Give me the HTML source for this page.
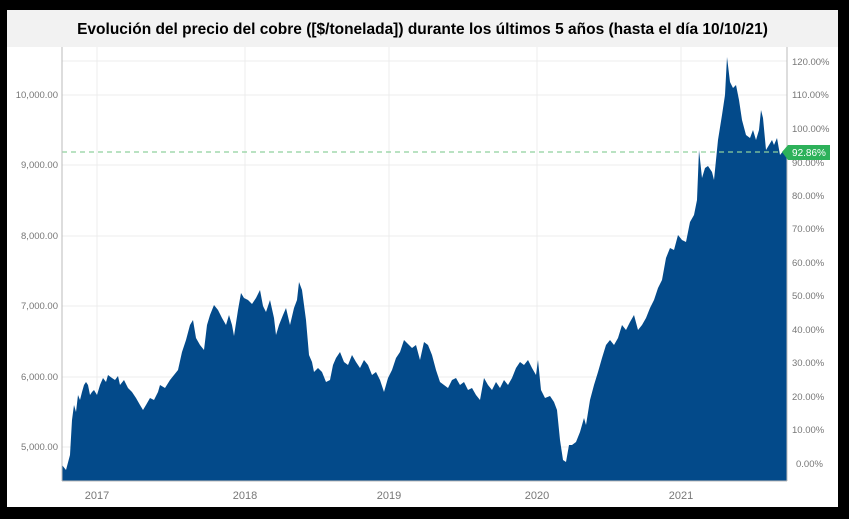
<!DOCTYPE html>
<html><head><meta charset="utf-8"><style>
body{margin:0;background:#000;width:849px;height:519px;overflow:hidden;font-family:"Liberation Sans",sans-serif}
#w{position:absolute;left:7px;top:10px;width:831px;height:497px;background:#fff}
#t{position:absolute;left:0;top:0;width:831px;height:37px;background:#f2f2f2;font:bold 15.5px "Liberation Sans",sans-serif;color:#000;text-align:center;line-height:40px}
</style></head><body>
<div id="w"><div id="t">Evolución del precio del cobre ([$/tonelada]) durante los últimos 5 años (hasta el día 10/10/21)</div></div>
<svg width="849" height="519" style="position:absolute;left:0;top:0" font-family="Liberation Sans,sans-serif">
<g stroke="#ececec" stroke-width="1">
<line x1="97" y1="47" x2="97" y2="481"/><line x1="245" y1="47" x2="245" y2="481"/><line x1="389" y1="47" x2="389" y2="481"/><line x1="537" y1="47" x2="537" y2="481"/><line x1="681" y1="47" x2="681" y2="481"/>
<line x1="62" y1="95" x2="787" y2="95"/><line x1="62" y1="165" x2="787" y2="165"/><line x1="62" y1="236" x2="787" y2="236"/><line x1="62" y1="306" x2="787" y2="306"/><line x1="62" y1="377" x2="787" y2="377"/><line x1="62" y1="447" x2="787" y2="447"/>
<line x1="62" y1="61" x2="787" y2="61"/>
</g>
<polygon fill="#034a8a" points="62,481 62,465 66,470 70,455 72,420 74,405 76,412 78,395 80,400 82,392 84,385 86,382 88,385 90,395 92,392 94,390 97,395 100,385 103,378 106,382 108,375 112,378 115,380 118,376 120,385 124,380 128,388 132,392 136,398 140,405 143,410 146,405 150,398 154,400 158,392 160,385 165,388 170,380 174,375 178,370 182,352 186,340 190,325 193,320 196,338 200,345 204,350 207,325 210,315 214,305 218,310 222,318 226,325 229,315 232,325 234,336 238,310 241,293 244,298 248,300 252,304 256,298 260,290 263,306 266,312 270,300 274,318 276,335 279,325 283,315 286,308 290,325 294,308 297,300 299,282 302,290 306,320 309,355 312,362 314,372 318,368 322,372 326,382 330,380 333,365 336,358 340,352 344,362 348,365 352,355 356,362 360,368 364,360 368,365 372,375 376,372 380,380 384,392 388,378 392,370 396,358 400,352 404,340 408,344 412,348 416,345 420,360 424,342 428,345 432,355 436,370 440,382 444,385 448,388 452,380 456,378 460,385 464,382 468,390 472,388 476,395 480,400 484,378 488,385 492,390 496,382 500,388 504,380 508,385 512,378 516,368 520,362 524,365 528,360 532,368 536,375 538,360 541,390 545,398 550,396 554,402 557,410 560,440 563,460 566,462 569,445 572,445 576,442 580,432 584,418 586,425 590,400 594,385 598,372 602,358 606,345 610,340 614,345 618,338 622,325 626,330 630,322 634,315 638,330 642,325 646,318 650,308 654,300 658,288 662,280 666,258 670,248 674,250 678,235 682,240 686,242 690,222 694,215 697,200 699,150 702,178 705,168 708,166 712,172 714,180 718,140 722,115 725,95 727,57 730,82 733,88 736,85 739,100 742,120 746,135 750,138 753,130 756,140 759,130 761,110 763,118 766,150 769,145 772,140 774,145 777,138 780,155 784,150 787,152 787,481"/>
<line x1="62" y1="152" x2="782" y2="152" stroke="#8fd19e" stroke-width="1.3" stroke-dasharray="5,4"/>
<g stroke="#bbb" stroke-width="1"><line x1="62" y1="47" x2="62" y2="481"/><line x1="787" y1="47" x2="787" y2="481"/><line x1="62" y1="481" x2="787" y2="481"/></g>
<g font-size="9.5" fill="#777" text-anchor="end">
<text x="58" y="98">10,000.00</text><text x="58" y="168">9,000.00</text><text x="58" y="239">8,000.00</text><text x="58" y="309">7,000.00</text><text x="58" y="380">6,000.00</text><text x="58" y="450">5,000.00</text>
</g>
<g font-size="9.5" fill="#777">
<text x="792" y="65">120.00%</text><text x="792" y="98">110.00%</text><text x="792" y="132">100.00%</text><text x="792" y="166">90.00%</text><text x="792" y="199">80.00%</text><text x="792" y="232">70.00%</text><text x="792" y="266">60.00%</text><text x="792" y="299">50.00%</text><text x="792" y="333">40.00%</text><text x="792" y="366">30.00%</text><text x="792" y="400">20.00%</text><text x="792" y="433">10.00%</text><text x="796" y="467">0.00%</text>
</g>
<path d="M782,152 L788,145 L830,145 L830,160 L788,160 Z" fill="#2db15a"/>
<text x="809" y="156" font-size="10" fill="#fff" text-anchor="middle">92.86%</text>
<g font-size="11" fill="#777" text-anchor="middle">
<text x="97" y="499">2017</text><text x="245" y="499">2018</text><text x="389" y="499">2019</text><text x="537" y="499">2020</text><text x="681" y="499">2021</text>
</g>
</svg>
</body></html>
